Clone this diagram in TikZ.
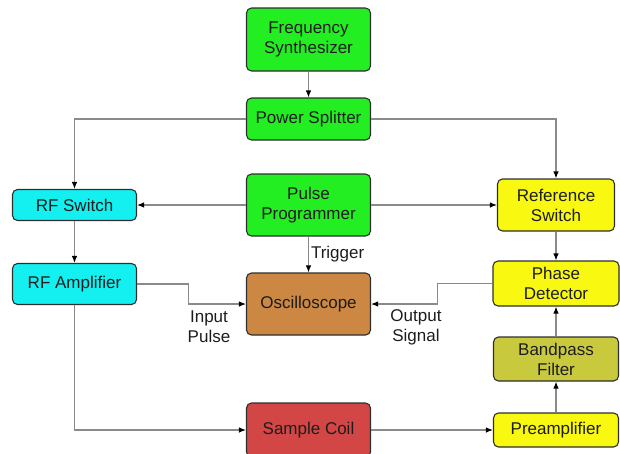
\documentclass[tikz,border=0pt]{standalone}
\usepackage{fontspec}
\setmainfont{Liberation Sans}
\usepackage{tikz}
\usetikzlibrary{arrows.meta}
\definecolor{GREEN}{HTML}{22EE22}
\definecolor{CYAN}{HTML}{14F0F0}
\definecolor{YELLOW}{HTML}{F8F810}
\definecolor{BROWN}{HTML}{CC8742}
\definecolor{RED}{HTML}{D24646}
\definecolor{OLIVE}{HTML}{C9C93E}
\definecolor{EDGE}{HTML}{2E2E2E}
\definecolor{WIRE}{HTML}{8A8A8A}
\definecolor{INK}{HTML}{1C1C1C}

\begin{document}
\begin{tikzpicture}[>={Latex[length=7pt,width=5.5pt,black]},x=1pt,y=1pt,
	block/.style={draw=EDGE,line width=1.1pt,rounded corners=5pt,align=center,
		text=INK,font=\fontsize{17}{20}\selectfont,minimum width=124pt,inner sep=2pt},
	label text/.style={align=center,text=INK,font=\fontsize{17}{20}\selectfont,inner sep=2pt},
	every edge/.style={draw=WIRE,line width=1.1pt,->},
	hv/.style={to path={-| (\tikztotarget) \tikztonodes}},
	vh/.style={to path={|- (\tikztotarget) \tikztonodes}},
	jog/.style={to path={-- ++(#1,0) |- (\tikztotarget) \tikztonodes}}]
	\useasboundingbox (0,0) rectangle (620,-453);
	
	\node[block,fill=GREEN,minimum height=63pt] (FS) at (308.5,-39.5) {Frequency\\Synthesizer};
	\node[block,fill=GREEN,minimum height=42pt] (PS)  [below of=FS,node distance=79.5pt]  {Power Splitter};
	\node[block,fill=GREEN,minimum height=62pt] (PP)  [below of=PS,node distance=86pt]    {Pulse\\Programmer};
	\node[block,fill=BROWN,minimum height=62pt] (OSC) [below of=PP,node distance=99pt]    {Oscilloscope};
	\node[block,fill=RED,minimum height=54pt]   (SC)  [below of=OSC,node distance=126pt]  {Sample Coil};
	\node[block,fill=CYAN,minimum height=31pt]  (RFS) [left of=PP,node distance=234pt]    {RF Switch};
	\node[block,fill=CYAN,minimum height=41pt]  (RFA) [below of=RFS,node distance=79pt]   {RF Amplifier};
	\node[block,fill=YELLOW,minimum width=117pt,minimum height=52pt] (RS) [right of=PP,node distance=247.5pt] {Reference\\Switch};
	\node[block,fill=YELLOW,minimum width=126pt,minimum height=45pt] (PD) [below of=RS,node distance=78.5pt] {Phase\\Detector};
	\node[block,fill=OLIVE,minimum width=125pt,minimum height=44pt]  (BF) [below of=PD,node distance=75.5pt] {Bandpass\\Filter};
	\node[block,fill=YELLOW,minimum width=125pt,minimum height=34pt] (PA) [below of=BF,node distance=71pt]   {Preamplifier};
	
	\node[label text] (inlbl)  at (209,-327) {Input\\Pulse};
	\node[label text] (outlbl) at (416,-327) {Output\\Signal};
	
	\path
	(FS)       edge                node {} (PS)
	(PS.west)  edge [hv]           node {} (RFS.north)
	(PS.east)  edge [hv]           node {} (RS.north)
	(PP)       edge                node {} (RFS)
	           edge                node {} (RS)
	           edge                node [label text,right]{Trigger} (OSC)
	(RFS)      edge                node {} (RFA)
	(RFA.east) edge [jog=51pt]     node {} (OSC.west)
	(RFA.south) edge [vh]          node {} (SC.west)
	(RS)       edge                node {} (PD)
	(PD.west)  edge [jog=-55pt]    node {} (OSC.east)
	(SC)       edge                node {} (PA)
	(PA)       edge                node {} (BF)
	(BF)       edge                node {} (PD);
\end{tikzpicture}
\end{document}
